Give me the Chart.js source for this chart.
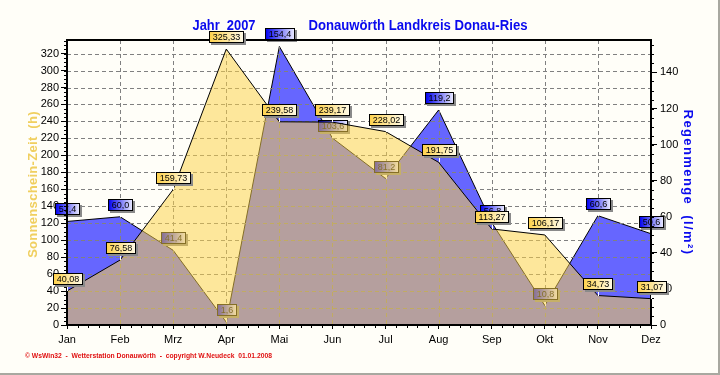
<!DOCTYPE html>
<html>
<head>
<meta charset="utf-8">
<script src="https://cdn.jsdelivr.net/npm/chart.js@4.4.0/dist/chart.umd.min.js"></script>
<style>
    html, body { margin: 0; padding: 0; background: #fffef8; }
    canvas { display: block; }
</style>
</head>
<body>
<canvas id="myChart" width="720" height="375"></canvas>
<script>
const months = ["Jan", "Feb", "Mrz", "Apr", "Mai", "Jun", "Jul", "Aug", "Sep", "Okt", "Nov", "Dez"];
const sunHours = [40.08, 76.58, 159.73, 325.33, 239.58, 239.17, 228.02, 191.75, 113.27, 106.17, 34.73, 31.07];
const rainAmount = [57.4, 60.0, 41.4, 1.6, 154.4, 103.6, 81.2, 119.2, 56.8, 10.8, 60.6, 50.6];
const sunAxis = [0, 336, 20];   // min, max, step
const rainAxis = [0, 158, 20];
const titleYear = "Jahr  2007";
const titleStation = "Donauwörth Landkreis Donau-Ries";
const sunAxisTitle = "Sonnenschein-Zeit  (h)";
const rainAxisTitle = "Regenmenge  (l/m²)";
const footerText = "© WsWin32  -  Wetterstation Donauwörth  -  copyright W.Neudeck  01.01.2008";

const baseFont = "'Liberation Sans', Arial, sans-serif";

function fmt(v, digits) {
    return v.toFixed(digits).replace(".", ",");
}

function drawBox(ctx, text, x, y, dark, light) {
    ctx.save();
    ctx.font = "9px " + baseFont;
    var w = Math.round(ctx.measureText(text).width) + 6;
    var h = 11;
    var left = Math.round(x - w / 2) + 0.5;
    var top = Math.round(y - 7 - h) + 0.5;
    ctx.lineWidth = 1;
    // little pointer down to the point
    ctx.strokeStyle = "#ffffff";
    ctx.beginPath();
    ctx.moveTo(Math.round(x) + 0.5, top + h + 2);
    ctx.lineTo(Math.round(x) + 0.5, Math.round(y));
    ctx.stroke();
    // shadow
    ctx.fillStyle = "#8a8a8a";
    ctx.fillRect(left + 1.5, top + 1.5, w + 1, h + 1);
    var grad = ctx.createLinearGradient(left, 0, left + w, 0);
    grad.addColorStop(0, dark);
    grad.addColorStop(1, light);
    ctx.fillStyle = grad;
    ctx.fillRect(left, top, w, h);
    ctx.strokeStyle = "#000";
    ctx.strokeRect(left, top, w, h);
    ctx.fillStyle = "#000";
    ctx.textAlign = "center";
    ctx.textBaseline = "middle";
    ctx.fillText(text, left + w / 2, top + h / 2 + 1);
    ctx.restore();
}

function drawGrid(chart) {
    const ctx = chart.ctx, area = chart.chartArea;
    const ys = chart.scales.y, xs = chart.scales.x;
    ctx.save();
    ctx.strokeStyle = "#808080";
    ctx.lineWidth = 1;
    ctx.setLineDash([4, 3]);
    ctx.beginPath();
    ys.ticks.forEach(function (t) {
        if (t.value === sunAxis[0]) return;
        var py = Math.round(ys.getPixelForValue(t.value)) + 0.5;
        ctx.moveTo(area.left, py);
        ctx.lineTo(area.right, py);
    });
    xs.ticks.forEach(function (t, i) {
        if (i === 0 || i === xs.ticks.length - 1) return;
        var px = Math.round(xs.getPixelForTick(i)) + 0.5;
        ctx.moveTo(px, area.top);
        ctx.lineTo(px, area.bottom);
    });
    ctx.stroke();
    ctx.restore();
}

function drawPointLabels(chart, index, digits, dark, light) {
    const meta = chart.getDatasetMeta(index);
    const values = chart.data.datasets[index].data;
    meta.data.forEach(function (pt, i) {
        drawBox(chart.ctx, fmt(values[i], digits), pt.x, pt.y, dark, light);
    });
}

const chartDecor = {
    id: "chartDecor",
    afterDatasetDraw(chart, args) {
        // grid + rain labels sit below the (transparent) sunshine area
        if (args.index === 1) {
            drawGrid(chart);
            drawPointLabels(chart, 1, 1, "#0000f0", "#ececff");
        }
    },
    afterDatasetsDraw(chart) {
        const ctx = chart.ctx, area = chart.chartArea;
        const xs = chart.scales.x, ys = chart.scales.y, ry = chart.scales.y1;
        ctx.save();
        // minor ticks
        ctx.strokeStyle = "#000";
        ctx.lineWidth = 1;
        ctx.beginPath();
        for (var v = sunAxis[0]; v <= sunAxis[1]; v += 5) {
            var py = Math.round(ys.getPixelForValue(v)) + 0.5;
            ctx.moveTo(area.left - 3, py);
            ctx.lineTo(area.left, py);
        }
        for (var r = rainAxis[0]; r <= rainAxis[1]; r += 5) {
            var ry0 = Math.round(ry.getPixelForValue(r)) + 0.5;
            ctx.moveTo(area.right, ry0);
            ctx.lineTo(area.right + 3, ry0);
        }
        for (var m = 0; m < months.length - 1; m++) {
            for (var k = 1; k < 5; k++) {
                var px = Math.round(xs.getPixelForValue(m + k / 5)) + 0.5;
                ctx.moveTo(px, area.bottom);
                ctx.lineTo(px, area.bottom + 3);
            }
        }
        ctx.stroke();
        // frame
        ctx.lineWidth = 2;
        ctx.strokeRect(area.left, area.top, area.right - area.left, area.bottom - area.top);
        ctx.restore();
        drawPointLabels(chart, 0, 2, "#ffd24c", "#fffbe8");
    },
    afterDraw(chart) {
        const ctx = chart.ctx, area = chart.chartArea;
        const midY = (area.top + area.bottom) / 2;
        ctx.save();
        // main title
        ctx.font = "bold 14px " + baseFont;
        ctx.fillStyle = "#0a0aee";
        ctx.textBaseline = "alphabetic";
        ctx.textAlign = "center";
        ctx.fillText(titleYear, 224, 30, 63);
        ctx.fillText(titleStation, 418, 30, 219);
        // axis titles
        ctx.font = "bold 13px " + baseFont;
        ctx.textBaseline = "middle";
        ctx.save();
        ctx.translate(33, midY + 2);
        ctx.rotate(-Math.PI / 2);
        ctx.fillStyle = "#f0cf5f";
        ctx.letterSpacing = "0.3px";
        ctx.fillText(sunAxisTitle, 0, 0);
        ctx.restore();
        ctx.save();
        ctx.translate(688, midY);
        ctx.rotate(Math.PI / 2);
        ctx.fillStyle = "#0a0aee";
        ctx.letterSpacing = "1.4px";
        ctx.fillText(rainAxisTitle, 0, 0);
        ctx.restore();
        // footer
        ctx.font = "bold 7px " + baseFont;
        ctx.fillStyle = "#e01010";
        ctx.textAlign = "left";
        ctx.fillText(footerText, 25, 356, 247);
        // window frame
        ctx.fillStyle = "#a8a8a0";
        ctx.fillRect(718, 0, 2, 375);
        ctx.fillRect(0, 373, 720, 2);
        ctx.restore();
    }
};

const tickFont = { family: baseFont, size: 11 };

new Chart("myChart", {
    type: "line",
    data: {
        labels: months,
        datasets: [{
            label: "Sonnenschein",
            data: sunHours,
            yAxisID: "y",
            fill: "origin",
            backgroundColor: "rgba(251,210,72,0.53)",
            borderColor: "#000",
            borderWidth: 1,
            pointRadius: 0,
            tension: 0
        }, {
            label: "Regen",
            data: rainAmount,
            yAxisID: "y1",
            fill: "origin",
            backgroundColor: "#6666ff",
            borderColor: "#000",
            borderWidth: 1,
            pointRadius: 0,
            tension: 0
        }]
    },
    options: {
        responsive: false,
        animation: false,
        events: [],
        layout: { padding: { top: 40, left: 0, right: 0, bottom: 0 } },
        plugins: {
            legend: { display: false },
            tooltip: { enabled: false },
            title: { display: false }
        },
        scales: {
            x: {
                offset: false,
                border: { display: false },
                grid: { drawOnChartArea: false, offset: false, color: "#000", tickLength: 4 },
                ticks: { color: "#000", font: tickFont, padding: 4, maxRotation: 0, autoSkip: false },
                afterFit: function (s) { s.height = 50; }
            },
            y: {
                position: "left",
                min: sunAxis[0],
                max: sunAxis[1],
                border: { display: false },
                grid: { drawOnChartArea: false, color: "#000", tickLength: 6 },
                ticks: { stepSize: sunAxis[2], includeBounds: false, color: "#000", font: tickFont, padding: 2 },
                afterFit: function (s) { s.width = 67; }
            },
            y1: {
                position: "right",
                min: rainAxis[0],
                max: rainAxis[1],
                border: { display: false },
                grid: { drawOnChartArea: false, color: "#000", tickLength: 6 },
                ticks: { stepSize: rainAxis[2], includeBounds: false, color: "#000", font: tickFont, padding: 3 },
                afterFit: function (s) { s.width = 69; }
            }
        }
    },
    plugins: [chartDecor]
});
</script>
</body>
</html>
